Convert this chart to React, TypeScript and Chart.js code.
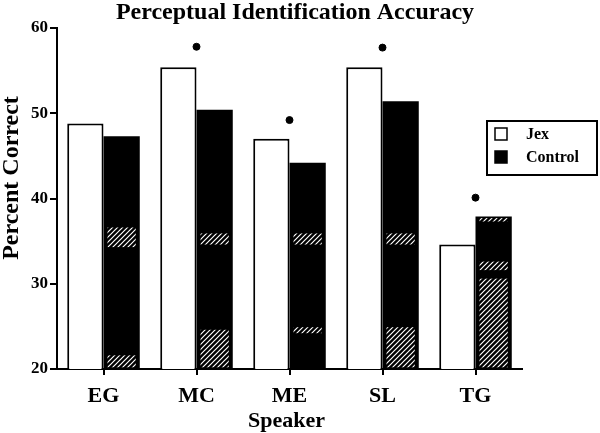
import React, { useEffect, useRef } from "react";
import { Chart, registerables } from "chart.js";

Chart.register(...registerables);

// ---- data ----
const speakers = ["EG", "MC", "ME", "SL", "TG"];
const jexValues = [48.8, 55.4, 47.0, 55.4, 34.6];
const controlValues = [47.3, 50.4, 44.2, 51.4, 37.9];
const significanceMarks: (number | null)[] = [null, 57.8, 49.2, 57.7, 40.1];
const yTickValues = [20, 30, 40, 50, 60];
// value ranges where the scanned texture of the Control bars shows as hatching
const controlHatchBands: number[][][] = [
  [[34.3, 36.6], [20.2, 21.6]],
  [[34.6, 35.9], [20.2, 24.6]],
  [[34.6, 35.9], [24.2, 24.9]],
  [[34.6, 35.9], [20.2, 24.9]],
  [[37.3, 37.7], [31.6, 32.6], [20.2, 30.6]],
];
const chartTitle = "Perceptual Identification Accuracy";
const xTitle = "Speaker";
const yTitle = "Percent Correct";
const seriesLabels = ["Jex", "Control"];

const SERIF = "'Liberation Serif', 'Times New Roman', serif";

function makeHatch(ctx: CanvasRenderingContext2D): CanvasPattern | string {
  const c = document.createElement("canvas");
  c.width = 5;
  c.height = 5;
  const g = c.getContext("2d");
  if (!g) return "#000";
  g.fillStyle = "#000";
  g.fillRect(0, 0, 5, 5);
  g.strokeStyle = "#fff";
  g.lineWidth = 1.2;
  g.beginPath();
  g.moveTo(-1, 6);
  g.lineTo(6, -1);
  g.moveTo(-1, 1);
  g.lineTo(1, -1);
  g.moveTo(4, 6);
  g.lineTo(6, 4);
  g.stroke();
  return ctx.createPattern(c, "repeat") || "#000";
}

const decorPlugin = {
  id: "decor",
  afterDatasetsDraw(chart: any) {
    const ctx: CanvasRenderingContext2D = chart.ctx;
    const yScale = chart.scales.y;
    const meta = chart.getDatasetMeta(1);
    const pat = makeHatch(ctx);
    ctx.save();
    meta.data.forEach((bar: any, i: number) => {
      const bands = controlHatchBands[i] || [];
      const w = bar.width;
      const left = bar.x - w / 2 + 4;
      const right = bar.x + w / 2 - 4;
      bands.forEach(([lo, hi]) => {
        const top = yScale.getPixelForValue(hi);
        const bot = yScale.getPixelForValue(lo);
        ctx.fillStyle = pat as any;
        ctx.fillRect(left, top, right - left, bot - top);
      });
    });
    ctx.restore();
  },
  afterDraw(chart: any) {
    const ctx: CanvasRenderingContext2D = chart.ctx;
    const area = chart.chartArea;
    ctx.save();
    ctx.fillStyle = "#000";
    // title
    ctx.font = `bold 24px ${SERIF}`;
    ctx.textAlign = "center";
    ctx.textBaseline = "middle";
    ctx.fillText(chartTitle, 295, 13);
    // x title
    ctx.font = `bold 22px ${SERIF}`;
    ctx.fillText(xTitle, (area.left + area.right) / 2 - 3, 421);
    // y title
    ctx.save();
    ctx.font = `bold 24px ${SERIF}`;
    ctx.translate(12, 178);
    ctx.rotate(-Math.PI / 2);
    ctx.fillText(yTitle, 0, 0);
    ctx.restore();

    // legend
    const lx = chart.width - 113;
    const ly = 121;
    ctx.lineWidth = 2;
    ctx.strokeStyle = "#000";
    ctx.strokeRect(lx, ly, 110, 54);
    const fills = ["#fff", "#000"];
    ctx.font = `bold 16px ${SERIF}`;
    ctx.textAlign = "left";
    seriesLabels.forEach((lab, i) => {
      const y = ly + 7 + i * 23;
      ctx.fillStyle = fills[i];
      ctx.fillRect(lx + 8, y, 12, 12);
      ctx.lineWidth = 1.5;
      ctx.strokeRect(lx + 8, y, 12, 12);
      ctx.fillStyle = "#000";
      ctx.fillText(lab, lx + 39, y + 7);
    });
    ctx.restore();
  },
};

export default function App() {
  const ref = useRef<HTMLCanvasElement | null>(null);
  useEffect(() => {
    if (!ref.current) return;
    const chart = new Chart(ref.current, {
      type: "bar",
      data: {
        labels: speakers,
        datasets: [
          {
            label: seriesLabels[0],
            data: jexValues,
            backgroundColor: "#fff",
            borderColor: "#000",
            borderWidth: 2,
            borderSkipped: "bottom",
            categoryPercentage: 0.78,
            barPercentage: 1.0,
            order: 2,
          } as any,
          {
            label: seriesLabels[1],
            data: controlValues,
            backgroundColor: "#000",
            borderColor: "#000",
            borderWidth: 0,
            categoryPercentage: 0.78,
            barPercentage: 1.0,
            order: 2,
          } as any,
          {
            type: "line",
            label: "significant",
            data: significanceMarks,
            showLine: false,
            pointRadius: 3.5,
            pointBackgroundColor: "#000",
            pointBorderColor: "#000",
            borderColor: "#000",
            order: 1,
          } as any,
        ],
      },
      options: {
        responsive: false,
        animation: false,
        devicePixelRatio: 1,
        layout: { padding: { top: 28, right: 78, left: 0, bottom: 0 } },
        plugins: {
          legend: { display: false },
          title: { display: false },
          tooltip: { enabled: false },
        },
        scales: {
          x: {
            type: "category",
            offset: true,
            grid: {
              offset: false,
              drawOnChartArea: false,
              drawTicks: true,
              tickLength: 6,
              color: "#000",
              lineWidth: 2,
            },
            border: { display: true, color: "#000", width: 2 },
            ticks: {
              color: "#000",
              font: { family: SERIF, size: 22, weight: "bold" },
              padding: 8,
              maxRotation: 0,
            },
            afterFit(s: any) {
              s.height = 64;
            },
          },
          y: {
            type: "linear",
            min: 20,
            max: 60,
            afterBuildTicks(s: any) {
              s.ticks = yTickValues.map((v) => ({ value: v }));
            },
            grid: {
              drawOnChartArea: false,
              drawTicks: true,
              tickLength: 7,
              color: "#000",
              lineWidth: 2,
            },
            border: { display: true, color: "#000", width: 2 },
            ticks: {
              color: "#000",
              font: { family: SERIF, size: 17, weight: "bold" },
              padding: 2,
            },
            afterFit(s: any) {
              s.width = 57;
            },
          },
        },
      },
      plugins: [decorPlugin],
    });
    return () => chart.destroy();
  }, []);
  return (
    <div style={{ position: "fixed", left: 0, top: 0, width: 600, height: 433, background: "#fff" }}>
      <canvas ref={ref} width={600} height={433} />
    </div>
  );
}
